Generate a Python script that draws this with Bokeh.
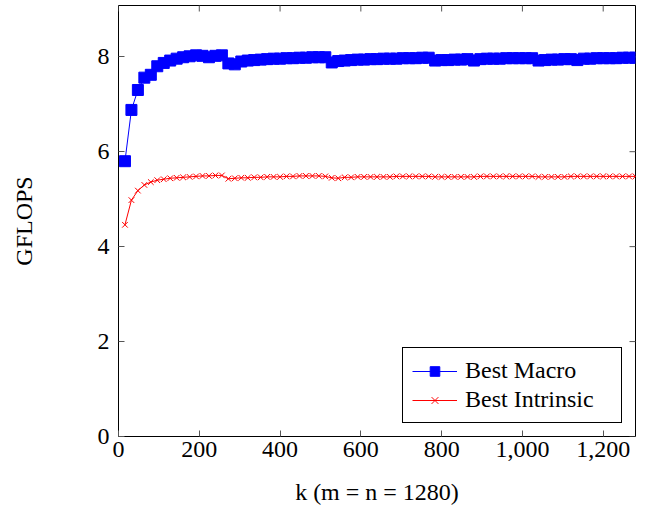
from bokeh.plotting import figure
from bokeh.models import FixedTicker, NumeralTickFormatter, Range1d
from bokeh.embed import file_html
from bokeh.resources import INLINE

k_values = [16, 32, 48, 64, 80, 96, 112, 128, 144, 160,
            176, 192, 208, 224, 240, 256, 272, 288, 304, 320,
            336, 352, 368, 384, 400, 416, 432, 448, 464, 480,
            496, 512, 528, 544, 560, 576, 592, 608, 624, 640,
            656, 672, 688, 704, 720, 736, 752, 768, 784, 800,
            816, 832, 848, 864, 880, 896, 912, 928, 944, 960,
            976, 992, 1008, 1024, 1040, 1056, 1072, 1088, 1104, 1120,
            1136, 1152, 1168, 1184, 1200, 1216, 1232, 1248, 1264, 1280]

best_macro = [5.80, 6.88, 7.30, 7.56, 7.62, 7.80, 7.87, 7.92, 7.96, 7.99,
              8.01, 8.03, 8.02, 7.99, 8.02, 8.03, 7.86, 7.84, 7.90, 7.92,
              7.93, 7.94, 7.95, 7.96, 7.96, 7.97, 7.97, 7.98, 7.98, 7.99,
              7.99, 7.99, 7.88, 7.91, 7.92, 7.93, 7.94, 7.94, 7.95, 7.95,
              7.96, 7.96, 7.96, 7.97, 7.97, 7.97, 7.98, 7.98, 7.92, 7.93,
              7.93, 7.94, 7.94, 7.95, 7.92, 7.95, 7.96, 7.96, 7.96, 7.97,
              7.97, 7.97, 7.97, 7.97, 7.92, 7.93, 7.94, 7.94, 7.95, 7.95,
              7.93, 7.96, 7.96, 7.97, 7.97, 7.97, 7.97, 7.98, 7.98, 7.98]

best_intrinsic = [4.46, 4.98, 5.18, 5.30, 5.36, 5.40, 5.42, 5.44, 5.45, 5.46,
                  5.47, 5.48, 5.49, 5.49, 5.50, 5.50, 5.43, 5.44, 5.45, 5.45,
                  5.46, 5.46, 5.47, 5.47, 5.47, 5.48, 5.48, 5.49, 5.49, 5.49,
                  5.49, 5.48, 5.45, 5.44, 5.46, 5.46, 5.47, 5.47, 5.47, 5.47,
                  5.47, 5.47, 5.48, 5.48, 5.48, 5.48, 5.48, 5.48, 5.47, 5.47,
                  5.47, 5.47, 5.47, 5.47, 5.47, 5.48, 5.48, 5.48, 5.48, 5.48,
                  5.48, 5.48, 5.48, 5.48, 5.47, 5.47, 5.47, 5.47, 5.47, 5.48,
                  5.48, 5.48, 5.48, 5.48, 5.48, 5.48, 5.48, 5.48, 5.48, 5.48]

x_ticks = [0, 200, 400, 600, 800, 1000, 1200]
y_ticks = [0, 2, 4, 6, 8]
X_MAX = 1280
Y_MAX = 9.08

FONT = "Liberation Serif"
FS = "24px"
TICK_COLOR = "#555555"

p = figure(frame_width=517, frame_height=431,
           x_range=Range1d(0, X_MAX), y_range=Range1d(0, Y_MAX),
           output_backend="svg", toolbar_location=None,
           min_border_left=118, min_border_right=5, min_border_top=5,
           min_border_bottom=10)
p.grid.visible = False
p.outline_line_color = "black"
p.outline_line_width = 1
p.background_fill_color = "white"
p.border_fill_color = "white"

p.xaxis.ticker = FixedTicker(ticks=x_ticks)
p.yaxis.ticker = FixedTicker(ticks=y_ticks)
p.xaxis.formatter = NumeralTickFormatter(format="0,0")
p.xaxis.axis_label = "k (m = n = 1280)"
p.yaxis.axis_label = "GFLOPS"

for ax in (p.xaxis[0], p.yaxis[0]):
    ax.axis_line_color = None
    ax.major_tick_in = 6
    ax.major_tick_out = 0
    ax.major_tick_line_color = TICK_COLOR
    ax.minor_tick_line_color = None
    ax.major_label_text_font = FONT
    ax.major_label_text_font_size = FS
    ax.major_label_text_color = "black"
    ax.axis_label_text_font = FONT
    ax.axis_label_text_font_size = FS
    ax.axis_label_text_font_style = "normal"
    ax.axis_label_text_color = "black"

p.xaxis.major_label_standoff = 5
p.xaxis.axis_label_standoff = 19
p.yaxis.major_label_standoff = 9
p.yaxis.axis_label_standoff = 58

# mirrored ticks on the top and right edges (half of each dash is clipped by the frame)
p.scatter(x_ticks, [Y_MAX] * len(x_ticks), marker="dash", angle=1.5708, size=12,
          line_color=TICK_COLOR, line_width=1)
p.scatter([X_MAX] * len(y_ticks), y_ticks, marker="dash", size=12,
          line_color=TICK_COLOR, line_width=1)

p.line(k_values, best_macro, line_color="#0000ff", line_width=1, legend_label="Best Macro")
p.scatter(k_values, best_macro, marker="square", size=11, fill_color="#0000ff",
          line_color="#0000ff", legend_label="Best Macro")
p.line(k_values, best_intrinsic, line_color="#ff0000", line_width=1, legend_label="Best Intrinsic")
p.scatter(k_values, best_intrinsic, marker="x", size=8, line_color="#ff0000",
          line_width=1, legend_label="Best Intrinsic")

lg = p.legend[0]
lg.location = "bottom_right"
lg.margin = 13
lg.border_line_color = "black"
lg.border_line_width = 1
lg.border_line_alpha = 1
lg.background_fill_color = "white"
lg.background_fill_alpha = 1
lg.label_text_font = FONT
lg.label_text_font_size = FS
lg.label_text_color = "black"
lg.glyph_width = 45
lg.glyph_height = 24
lg.label_standoff = 8
lg.label_width = 147
lg.label_height = 26
lg.padding = 9
lg.spacing = 2

open("out.html", "w").write(file_html(p, INLINE))
